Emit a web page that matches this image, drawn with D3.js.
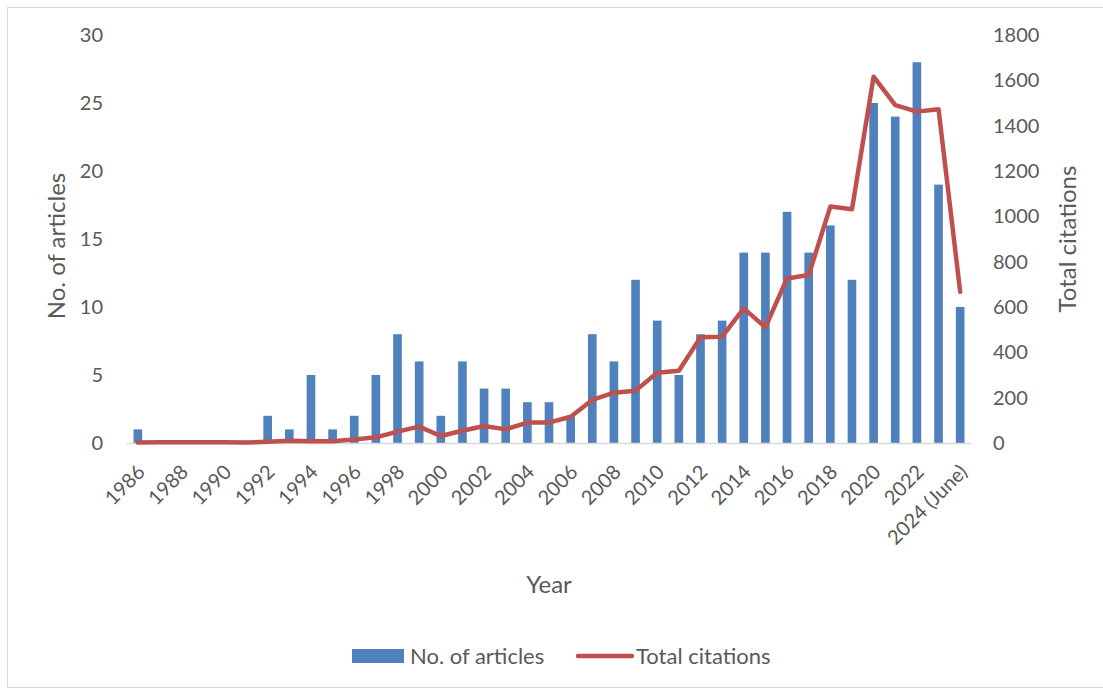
<!DOCTYPE html>
<html>
<head>
<meta charset="utf-8">
<script src="https://cdn.jsdelivr.net/npm/d3@7"></script>
<style>
  html, body { margin: 0; padding: 0; background: #fff; }
  svg { display: block; }
  text { font-family: Lato, "Open Sans", sans-serif; fill: #595959; }
</style>
</head>
<body>
<svg id="chart" width="1103" height="691"></svg>
<script>
const years = ["1986","1987","1988","1989","1990","1991","1992","1993","1994","1995","1996","1997","1998","1999","2000","2001","2002","2003","2004","2005","2006","2007","2008","2009","2010","2011","2012","2013","2014","2015","2016","2017","2018","2019","2020","2021","2022","2023","2024 (June)"];
const articles = [1,0,0,0,0,0,2,1,5,1,2,5,8,6,2,6,4,4,3,3,2,8,6,12,9,5,8,9,14,14,17,14,16,12,25,24,28,19,10];
const citations = [2,3,3,3,3,2,5,10,8,8,15,25,50,72,31,54,75,60,90,90,116,190,222,231,310,319,466,469,594,510,726,741,1043,1031,1616,1491,1462,1472,667];
const leftTicks = [0,5,10,15,20,25,30];
const rightTicks = [0,200,400,600,800,1000,1200,1400,1600,1800];
const seriesNames = ["No. of articles","Total citations"];
const xTitle = "Year";

const FONT = "Lato, 'Open Sans', sans-serif";
const svg = d3.select("#chart");
const plot = { left: 127, right: 971, top: 35, bottom: 443 };

// chart border
svg.append("rect").attr("x", 7.5).attr("y", 7.5).attr("width", 1103).attr("height", 680)
  .attr("fill", "none").attr("stroke", "#D9D9D9").attr("stroke-width", 1);

const x = d3.scaleBand().domain(years).range([plot.left, plot.right])
  .paddingInner(0.6).paddingOuter(0.3);
const yL = d3.scaleLinear().domain([0, 30]).range([plot.bottom, plot.top]);
const yR = d3.scaleLinear().domain([0, 1800]).range([plot.bottom, plot.top]);

// bars
svg.append("g").selectAll("rect").data(years).join("rect")
  .attr("x", d => x(d))
  .attr("width", x.bandwidth())
  .attr("y", (d, i) => yL(articles[i]))
  .attr("height", (d, i) => plot.bottom - yL(articles[i]))
  .attr("fill", "#4F81BD");

// x axis line
svg.append("line").attr("x1", plot.left).attr("x2", plot.right)
  .attr("y1", plot.bottom + 0.5).attr("y2", plot.bottom + 0.5)
  .attr("stroke", "#D9D9D9").attr("stroke-width", 1.5);

// line
const line = d3.line()
  .x((d, i) => x(years[i]) + x.bandwidth() / 2)
  .y(d => yR(d));
svg.append("path").datum(citations).attr("d", line)
  .attr("fill", "none").attr("stroke", "#C0504D").attr("stroke-width", 4.5)
  .attr("stroke-linejoin", "round").attr("stroke-linecap", "round");

// left axis
const gl = svg.append("g").attr("transform", `translate(${plot.left},0)`)
  .call(d3.axisLeft(yL).tickValues(leftTicks).tickSize(0).tickPadding(24));
gl.select(".domain").remove();
gl.selectAll("text").style("font-size", "20px").attr("fill", "#595959").style("font-family", FONT);

// right axis
const gr = svg.append("g").attr("transform", `translate(${plot.right},0)`)
  .call(d3.axisRight(yR).tickValues(rightTicks).tickFormat(d3.format("d")).tickSize(0).tickPadding(22));
gr.select(".domain").remove();
gr.selectAll("text").style("font-size", "20px").attr("fill", "#595959").style("font-family", FONT);

// x axis labels (every other)
const gx = svg.append("g").attr("transform", `translate(0,${plot.bottom})`)
  .call(d3.axisBottom(x).tickValues(years.filter((d, i) => i % 2 === 0)).tickSize(0).tickPadding(0));
gx.select(".domain").remove();
gx.selectAll("text")
  .style("font-size", "20px").attr("fill", "#595959").style("font-family", FONT)
  .attr("text-anchor", "end")
  .attr("dy", null).attr("y", 0)
  .attr("transform", "translate(-3,19) rotate(-45)")
  .attr("dominant-baseline", "hanging");

// axis titles
svg.append("text").attr("transform", "translate(65,246) rotate(-90)")
  .attr("text-anchor", "middle").style("font-size", "24px").text("No. of articles");
svg.append("text").attr("transform", "translate(1076,239) rotate(-90)")
  .attr("text-anchor", "middle").style("font-size", "24px").text("Total citations");
svg.append("text").attr("x", 549).attr("y", 593)
  .attr("text-anchor", "middle").style("font-size", "24px").text(xTitle);

// legend
svg.append("rect").attr("x", 352).attr("y", 649).attr("width", 52).attr("height", 14).attr("fill", "#4F81BD");
svg.append("text").attr("x", 410).attr("y", 664).style("font-size", "22px").text(seriesNames[0]);
svg.append("line").attr("x1", 578).attr("x2", 632).attr("y1", 656).attr("y2", 656)
  .attr("stroke", "#C0504D").attr("stroke-width", 4.5).attr("stroke-linecap", "round");
svg.append("text").attr("x", 636).attr("y", 664).style("font-size", "22px").text(seriesNames[1]);
</script>
</body>
</html>
